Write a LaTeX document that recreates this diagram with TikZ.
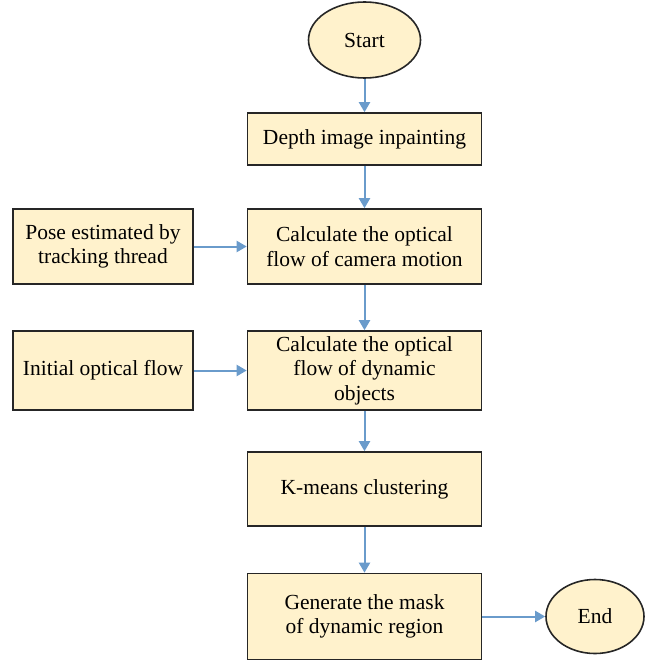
\documentclass[tikz,border=0pt]{standalone}
\usepackage{fontspec}
\setmainfont{Liberation Serif}
\usetikzlibrary{shapes.geometric,arrows.meta}
\definecolor{boxfill}{HTML}{FFF2CC}
\definecolor{flowblue}{HTML}{6A9BCB}
\tikzset{
  stepbox/.style={draw=black!85, line width=1.6pt, fill=boxfill, rectangle,
    align=center, inner sep=0pt, font=\fontsize{21.5}{24.5}\selectfont},
  terminal/.style={draw=black!85, line width=1.6pt, fill=boxfill, ellipse,
    inner sep=0pt, font=\fontsize{21.5}{24.5}\selectfont},
  flow/.style={draw=flowblue, line width=2pt,
    -{Triangle[width=11pt,length=10pt]}},
}
\begin{document}
\begin{tikzpicture}[x=1pt,y=-1pt]
\useasboundingbox (0,0) rectangle (645,661);
% main column
\node[terminal, minimum width=112pt, minimum height=76pt] (start) at (364.5,40) {Start};
\node[stepbox, minimum width=234pt, minimum height=52pt] (depth) at (364.5,139) {Depth image inpainting};
\node[stepbox, minimum width=234pt, minimum height=75pt] (cam) at (364.5,246.5) {Calculate the optical\\flow of camera motion};
\node[stepbox, minimum width=234pt, minimum height=79pt] (dyn) at (364.5,370.5) {Calculate the optical\\flow of dynamic\\objects};
\node[stepbox, minimum width=234pt, minimum height=74pt] (kmeans) at (364.5,489) {K-means clustering};
\node[stepbox, minimum width=234pt, minimum height=86pt] (gen) at (364.5,616.5) {Generate the mask\\of dynamic region};
\node[terminal, minimum width=98pt, minimum height=74pt] (end) at (595,616.5) {End};
% side inputs
\node[stepbox, minimum width=180pt, minimum height=75pt] (pose) at (103,246.5) {Pose estimated by\\tracking thread};
\node[stepbox, minimum width=180pt, minimum height=79pt] (init) at (103,370.5) {Initial optical flow};

\draw[flow] (start) -- (depth);
\draw[flow] (depth) -- (cam);
\draw[flow] (pose) -- (cam);
\draw[flow] (cam) -- (dyn);
\draw[flow] (init) -- (dyn);
\draw[flow] (dyn) -- (kmeans);
\draw[flow] (kmeans) -- (gen);
\draw[flow] (gen) -- (end);
\end{tikzpicture}
\end{document}
